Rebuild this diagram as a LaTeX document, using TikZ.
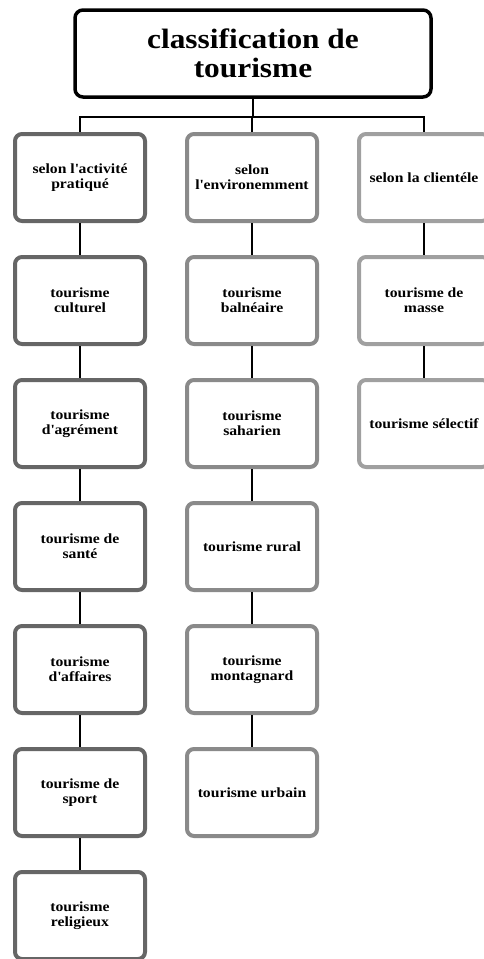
\documentclass[tikz,border=0pt]{standalone}
\usepackage{fontspec}
\setmainfont{Liberation Serif}[FakeStretch=1.12]
\usepackage{xcolor}
\usepackage{tikz}
\definecolor{colone}{RGB}{102, 102, 102}
\definecolor{coltwo}{RGB}{138, 138, 138}
\definecolor{colthree}{RGB}{160, 160, 160}
\usetikzlibrary{shapes,arrows,positioning}

\begin{document}
\begin{tikzpicture}[x=1pt, y=1pt, node distance=123pt,
    box/.style={rectangle, rounded corners=7pt, line width=4pt, fill=white, minimum width=130pt, minimum height=87pt, align=center, font=\fontsize{14}{15}\selectfont\bfseries},
    link/.style={line width=1.5pt, black}]
    \useasboundingbox (0,0) rectangle (484,-959);
    \node[rectangle, rounded corners=8pt, draw=black, line width=3.5pt, minimum width=356pt, minimum height=87pt, align=center, font=\fontsize{28}{29}\selectfont\bfseries] (title) at (253,-53.5) {classification de\\tourisme};

    \node[box, draw=colone] (act) at (80,-177.5) {selon l\textquotesingle activité\\pratiqué};
    \node[box, draw=coltwo] (env) at (252,-177.5) {selon\\l\textquotesingle environemment};
    \node[box, draw=colthree] (cli) at (424,-177.5) {selon la clientéle};

    \node[box, draw=colone, below of=act] (cult) {tourisme\\culturel};
    \node[box, draw=colone, below of=cult] (agre) {tourisme\\d\textquotesingle agrément};
    \node[box, draw=colone, below of=agre] (sante) {tourisme de\\santé};
    \node[box, draw=colone, below of=sante] (aff) {tourisme\\d\textquotesingle affaires};
    \node[box, draw=colone, below of=aff] (sport) {tourisme de\\sport};
    \node[box, draw=colone, below of=sport] (relig) {tourisme\\religieux};

    \node[box, draw=coltwo, below of=env] (baln) {tourisme\\balnéaire};
    \node[box, draw=coltwo, below of=baln] (sahar) {tourisme\\saharien};
    \node[box, draw=coltwo, below of=sahar] (rural) {tourisme rural};
    \node[box, draw=coltwo, below of=rural] (mont) {tourisme\\montagnard};
    \node[box, draw=coltwo, below of=mont] (urb) {tourisme urbain};

    \node[box, draw=colthree, below of=cli] (masse) {tourisme de\\masse};
    \node[box, draw=colthree, below of=masse] (select) {tourisme sélectif};

    \coordinate (bus) at (253,-117);
    \draw[link] (title) -- (bus);
    \draw[link] (bus) -| (act);
    \draw[link] (bus) -| (env);
    \draw[link] (bus) -| (cli);

    \draw[link] (act) -- (cult);
    \draw[link] (cult) -- (agre);
    \draw[link] (agre) -- (sante);
    \draw[link] (sante) -- (aff);
    \draw[link] (aff) -- (sport);
    \draw[link] (sport) -- (relig);

    \draw[link] (env) -- (baln);
    \draw[link] (baln) -- (sahar);
    \draw[link] (sahar) -- (rural);
    \draw[link] (rural) -- (mont);
    \draw[link] (mont) -- (urb);

    \draw[link] (cli) -- (masse);
    \draw[link] (masse) -- (select);
\end{tikzpicture}
\end{document}
